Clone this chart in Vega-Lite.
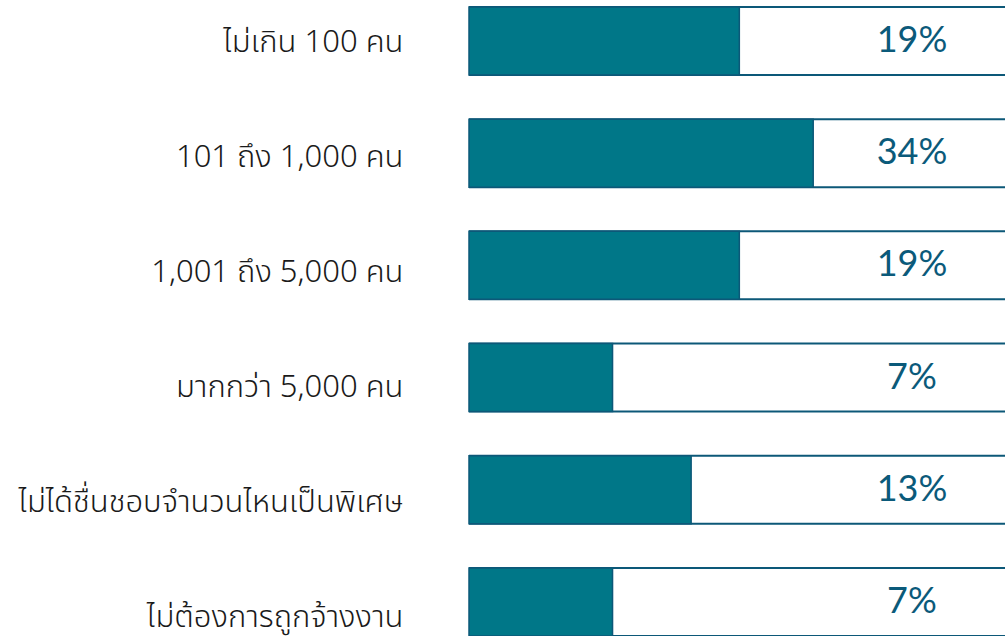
{
  "$schema": "https://vega.github.io/schema/vega-lite/v6.json",
  "autosize": {"type": "none"},
  "padding": {"left": 469, "top": 0, "right": 0, "bottom": 0},
  "width": 536,
  "height": 636,
  "background": "white",
  "config": {"view": {"stroke": null}},
  "data": {"values": [
    {"cat": "ไม่เกิน 100 คน", "pct": 19, "label": "19%"},
    {"cat": "101 ถึง 1,000 คน", "pct": 34, "label": "34%"},
    {"cat": "1,001 ถึง 5,000 คน", "pct": 19, "label": "19%"},
    {"cat": "มากกว่า 5,000 คน", "pct": 7, "label": "7%"},
    {"cat": "ไม่ได้ชื่นชอบจำนวนไหนเป็นพิเศษ", "pct": 13, "label": "13%"},
    {"cat": "ไม่ต้องการถูกจ้างงาน", "pct": 7, "label": "7%"}
  ]},
  "layer": [
    {
      "encoding": {
        "y": {"field": "cat", "type": "nominal", "sort": null, "axis": null,
              "scale": {"type": "band", "paddingInner": 0.394, "paddingOuter": 0.031, "align": 1}}
      },
      "layer": [
        {
          "mark": {"type": "bar", "clip": true},
          "encoding": {
            "x": {"datum": 300, "type": "quantitative", "axis": null,
                  "scale": {"type": "log", "domain": [2.26, 154], "nice": false}},
            "x2": {"value": 0},
            "fill": {"value": "white"},
            "stroke": {"value": "#0c5878"},
            "strokeWidth": {"value": 2}
          }
        },
        {
          "mark": {"type": "bar"},
          "encoding": {
            "x": {"field": "pct", "type": "quantitative", "stack": null},
            "x2": {"value": 0},
            "fill": {"value": "#007788"},
            "stroke": {"value": "#0c5878"},
            "strokeWidth": {"value": 1.5}
          }
        },
        {
          "mark": {"type": "text", "font": "Lato", "fontSize": 36, "fontWeight": 400, "align": "center", "baseline": "middle"},
          "encoding": {
            "x": {"datum": 74, "type": "quantitative"},
            "text": {"field": "label"},
            "color": {"value": "#0b5a7a"}
          }
        }
      ]
    },
    {
      "mark": {"type": "point", "opacity": 0},
      "encoding": {
        "y": {"field": "cat", "type": "nominal", "sort": null,
              "scale": {"type": "point", "padding": 0.263, "align": 0.702},
              "axis": {"orient": "left", "title": null, "domain": false, "ticks": false, "grid": false,
                       "labelPadding": 66, "labelFontSize": 31, "labelFontWeight": 350, "labelColor": "#1a1a1a",
                       "labelFont": "Noto Sans Thai, Noto Sans, sans-serif", "labelLimit": 0,
                       "labelAlign": "right", "labelBaseline": "middle"}}
      }
    }
  ],
  "resolve": {"scale": {"y": "independent"}}
}
